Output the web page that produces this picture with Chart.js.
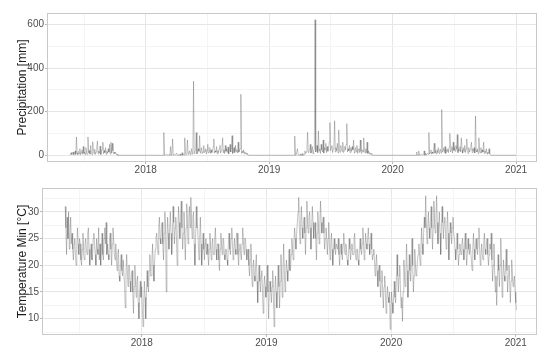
<!DOCTYPE html>
<html>
<head>
<meta charset="utf-8">
<script src="https://cdn.jsdelivr.net/npm/chart.js@4"></script>
<style>
  body { margin: 0; background: #fff; }
  canvas { display: block; }
</style>
</head>
<body>
<canvas id="rainChart" width="550" height="180"></canvas>
<canvas id="tempChart" width="550" height="179"></canvas>
<script>
// x axis (decimal years) shared by both panels
const xMin = 2017.2;
const xMax = 2021.17;
const yearTicks = [2017.5, 2018, 2018.5, 2019, 2019.5, 2020, 2020.5, 2021];

// precipitation [mm], one value every 2 days inside each rainy season
const rainStepDays = 2;
const rainSeasonStarts = [2017.384, 2018.13, 2019.18, 2020.19];
const rain2017 = [0,5,12,3,8,15,2,6,20,4,84,10,3,18,6,30,2,12,25,5,40,8,15,3,35,10,4,84,12,22,5,45,14,3,62,18,8,28,4,15,38,65,6,20,10,42,3,15,28,60,7,22,12,35,4,18,9,30,14,50,5,60,10,55,20,6,15,8,12,3,5,0];
const rain2018 = [
  0,0,0,104,0,0,0,6,0,0, 0,3,0,40,0,10,75,0,0,4, 0,0,10,0,0,2,0,6,0,0,
  12,0,3,0,80,5,2,15,70,4, 8,20,3,12,30,5,10,340,8,15, 25,104,6,12,30,18,90,10,20,35,
  8,14,45,12,18,30,6,22,50,10, 15,35,8,25,12,18,40,75,10,20, 14,40,6,22,12,30,45,10,20,35,
  80,12,25,8,45,18,30,12,38,6, 20,50,15,28,90,8,20,35,12,45, 18,25,10,60,14,22,30,280,8,18,
  12,25,6,15,8,10,4,6,0
];
const rain2019 = [
  0,0,0,0,0,88,0,0,0,30, 0,0,0,5,0,0,8,0,0,3, 20,8,15,35,105,12,20,28,50,10,
  18,40,6,22,30,622,15,25,45,12, 112,20,30,8,50,25,15,70,10,35, 25,55,12,40,18,30,60,150,20,35,
  45,12,28,50,158,15,35,20,55,10, 116,28,14,45,30,18,60,12,20,40, 25,50,145,15,30,20,45,12,35,18,
  40,25,70,10,20,35,15,45,8,25, 30,12,70,18,8,25,15,80,20,10, 30,12,60,8,20,6,12,4,8,3,
  0
];
const rain2020 = [
  0,15,0,0,20,0,0,0,5,0, 0,3,20,0,8,0,0,10,4,104, 6,12,25,5,15,8,30,55,10,20,
  6,25,12,35,8,18,28,10,210,15, 22,35,12,40,8,25,18,30,12,38, 100,15,25,40,10,60,22,35,18,45,
  28,95,12,30,20,40,15,80,25,10, 35,18,45,12,30,75,20,8,35,15, 25,40,60,12,30,18,35,10,180,22,
  15,30,8,80,20,12,35,10,25,15, 60,8,20,12,30,5,15,8,30,6, 4,0
];
const rainEnd = 2021.0;
const rainTicks = [0, 100, 200, 300, 400, 500, 600];

// minimum temperature [°C], one value every 2 days
const tempStart = 2017.386;
const tempStepDays = 2;
const tempMin = [
  31,27,22,29,25,30,23,26,29,24,
  26,23,21,24,25,22,20,23,27,24,22,25,24,21,20,23,26,22,21,24,25,23,22,26,27,23,20,22,24,21,21,25,
  26,24,22,20,25,23,22,27,21,24,20,23,26,22,21,25,27,24,28,22,24,22,21,25,26,23,20,24,27,25,22,21,
  24,21,19,22,23,18,17,20,22,19,18,21,21,16,12,18,22,19,16,20,20,17,15,18,19,15,11,16,20,17,14,17,18,13,10,15,17,14,
  16,12,8.5,13,17,14,10,15,19,16,
  15,19,22,18,18,21,24,20,17,21,23,25,
  26,24,22,27,29,25,24,27,28,24,21,26,30,27,15,24,29,26,23,27,30,26,22,25,31,28,24,27,29,25,
  20,26,31,28,25,29,32,27,23,26,30,25,21,27,31.5,28,24,29,31,27,32.7,28,25,29,30,24,20,25,31,27,
  27,24,21,25,29,24,20,23,26,23,21,24,25,22,
  24,22,20,23,26,23,21,24,25,22,22,25,27,23,21,24,24,21,19,23,26,24,22,25,25,22,21,23,23,21,
  20,24,26,23,22,25,27,24,21,23,25,23,22,26,26,22,20,23,24,22,21,24,27,24,22,25,25,23,21,22,
  23,20,18,21,24,19,16,20,21,18,17,20,22,17,13,18,20,17,15,18,19,15,11,16,18,16,14,17,20,15,10,16,17,15,13,16,19,14,8.5,15,18,15,12,16,
  20,16,12,17,22,18,14,19,24,19,15,18,21,19,17,20,23,19,
  19,22,25,23,21,24,27,25,23,26,28,30,32.7,27,
  24,28,31,27,25,28,29,26,22,27,32,28,26,29,30,27,23,27,31,28,25,27,28,25,21,26,30,27,24,28,32,28,26,28,29,26,23,25,
  27,25,22,25,28,24,21,24,26,23,20,23,25,23,22,24,24,23,
  25,22,20,23,24,22,21,24,26,23,22,24,23,21,20,22,25,23,21,23,24,22,22,25,26,22,21,23,23,21,
  20,23,25,23,22,24,27,24,21,23,26,24,23,25,27,24,22,24,26,23,21,22,
  23,21,18,20,22,19,16,19,20,17,14,17,19,15,12,16,18,15,11,14,16,14,13,15,8,12,15,13,11,14,17,14,
  13,17,22,18,15,18,20,16,12,14,9.5,15,21,18,16,19,24,19,14,17,22,19,17,20,25,20,15,18,23,20,18,19,21,22,
  24,22,20,23,27,24,22,26,29,27,
  33,28,24,27,30,27,25,28,31,27,23,27,32,28,26,29,33,28,24,27,30,26,22,27,31,28,25,28,29,26,23,27,30,26,21,25,28,26,24,27,29,26,
  25,23,21,23,26,23,20,22,24,23,22,24,25,23,
  21,24,26,23,20,22,25,23,22,24,24,21,19,23,26,23,21,24,25,23,22,25,27,23,20,22,24,22,21,24,26,23,22,24,25,22,20,22,24,23,
  26,21,17,20,24,19,15,18,12.5,17,22,19,16,20,25,20,14,18,21,18,17,20,23,19,15,18,20,17,13,17,21,18,16,17,18,15,13,11.6
];
const tempTicks = [7.5, 10, 12.5, 15, 17.5, 20, 22.5, 25, 27.5, 30, 32.5];

function toPoints(start, values, stepDays) {
  return values.map((v, i) => ({ x: start + i * stepDays / 365.25, y: v }));
}

let rainPoints = [];
[rain2017, rain2018, rain2019, rain2020].forEach((vals, k) => {
  rainPoints = rainPoints.concat(toPoints(rainSeasonStarts[k], vals, rainStepDays));
});
rainPoints.push({ x: rainEnd, y: 0 });

const tempPoints = toPoints(tempStart, tempMin, tempStepDays);

const majorGrid = '#e6e6e6';
const minorGrid = '#f4f4f4';
const tickText = '#4d4d4d';
const fontFamily = '"Liberation Sans", Arial, sans-serif';

const panelBorder = {
  id: 'panelBorder',
  afterDraw(chart) {
    const { ctx, chartArea: a } = chart;
    ctx.save();
    ctx.strokeStyle = '#c9c9c9';
    ctx.lineWidth = 1;
    ctx.strokeRect(Math.round(a.left) + 0.5, Math.round(a.top) + 0.5, Math.round(a.width) - 1, Math.round(a.height) - 1);
    ctx.restore();
  }
};

function makeChart(id, opts) {
  return new Chart(document.getElementById(id).getContext('2d'), {
    type: 'line',
    data: {
      datasets: [{
        data: opts.points,
        borderColor: opts.lineColor,
        borderWidth: opts.lineWidth,
        pointRadius: 0,
        tension: 0,
        fill: false
      }]
    },
    options: {
      responsive: false,
      animation: false,
      devicePixelRatio: 1,
      layout: { padding: { left: 0, right: 13, top: opts.padTop, bottom: 0 } },
      plugins: { legend: { display: false }, tooltip: { enabled: false } },
      scales: {
        x: {
          type: 'linear',
          min: xMin,
          max: xMax,
          afterBuildTicks: s => { s.ticks = yearTicks.map(v => ({ value: v })); },
          afterFit: s => { s.height = opts.xAxisHeight; },
          ticks: {
            autoSkip: false,
            maxRotation: 0,
            padding: opts.xTickPad,
            color: tickText,
            font: { family: fontFamily, size: 10 },
            callback: v => Number.isInteger(v) ? String(v) : ''
          },
          grid: {
            color: c => Number.isInteger(c.tick.value) ? majorGrid : minorGrid,
            tickColor: c => Number.isInteger(c.tick.value) ? '#b8b8b8' : 'rgba(0,0,0,0)',
            tickLength: opts.xTickLen
          },
          border: { display: false }
        },
        y: {
          type: 'linear',
          min: opts.yMin,
          max: opts.yMax,
          afterBuildTicks: s => { s.ticks = opts.yTicks.map(v => ({ value: v })); },
          afterFit: s => { s.width = opts.yAxisWidth; },
          ticks: {
            autoSkip: false,
            padding: 1,
            color: tickText,
            font: { family: fontFamily, size: 10 },
            callback: v => opts.isMajor(v) ? String(v) : ''
          },
          grid: {
            color: c => opts.isMajor(c.tick.value) ? majorGrid : minorGrid,
            tickColor: c => opts.isMajor(c.tick.value) ? '#b8b8b8' : 'rgba(0,0,0,0)',
            tickLength: 2
          },
          border: { display: false },
          title: {
            display: true,
            text: opts.title,
            color: '#1a1a1a',
            font: { family: fontFamily, size: 12 },
            padding: { top: 15, bottom: 0 }
          }
        }
      }
    },
    plugins: [panelBorder]
  });
}

makeChart('rainChart', {
  points: rainPoints,
  lineColor: 'rgba(60,60,60,0.5)',
  lineWidth: 0.6,
  padTop: 13,
  xAxisHeight: 18,
  xTickLen: 2,
  xTickPad: 0,
  yMin: -31,
  yMax: 653,
  yTicks: rainTicks,
  yAxisWidth: 47,
  isMajor: v => v % 200 === 0,
  title: 'Precipitation [mm]'
});

makeChart('tempChart', {
  points: tempPoints,
  lineColor: 'rgba(85,85,85,0.5)',
  lineWidth: 0.7,
  padTop: 8,
  xAxisHeight: 24,
  xTickLen: 2,
  xTickPad: 0,
  yMin: 6.95,
  yMax: 34.45,
  yTicks: tempTicks,
  yAxisWidth: 42,
  isMajor: v => v % 5 === 0,
  title: 'Temperature Min [°C]'
});
</script>
</body>
</html>
